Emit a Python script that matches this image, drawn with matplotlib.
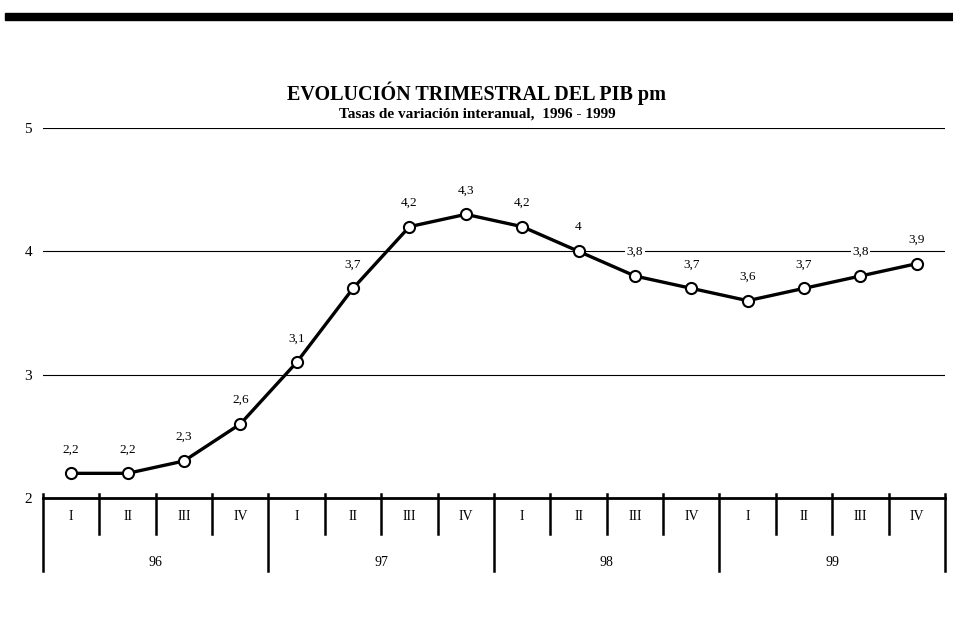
import matplotlib
matplotlib.use("Agg")
import matplotlib.pyplot as plt
from matplotlib.patches import Rectangle

plt.rcParams['font.family'] = ['Liberation Serif', 'DejaVu Serif']

quarters = ["I", "II", "III", "IV"] * 4
years = ["96", "97", "98", "99"]
values = [2.2, 2.2, 2.3, 2.6, 3.1, 3.7, 4.2, 4.3, 4.2, 4.0, 3.8, 3.7, 3.6, 3.7, 3.8, 3.9]
labels = ["2,2", "2,2", "2,3", "2,6", "3,1", "3,7", "4,2", "4,3", "4,2", "4", "3,8", "3,7", "3,6", "3,7", "3,8", "3,9"]
yticks = [2, 3, 4, 5]

W, H = 954, 628
fig = plt.figure(figsize=(W / 100, H / 100), dpi=100)
left, right, top, bottom = 43, 945, 128, 498
ax = fig.add_axes([left / W, 1 - bottom / H, (right - left) / W, (bottom - top) / H])

n = len(values)
xs = [i + 0.5 for i in range(n)]
ax.set_xlim(0, n)
ax.set_ylim(2, 5)

for y in yticks[1:]:
    ax.axhline(y, color="black", lw=0.8, zorder=1)

ax.plot(xs, values, color="black", lw=2.4, marker="o", markersize=8,
        markerfacecolor="white", markeredgecolor="black", markeredgewidth=1.5,
        zorder=3, clip_on=False)

for x, v, t in zip(xs, values, labels):
    ax.annotate(t, (x, v), xytext=(0, 13), textcoords="offset points",
                ha="center", va="bottom", fontsize=9.5,
                bbox=dict(boxstyle="square,pad=0.1", fc="white", ec="none"),
                zorder=2)

for s in ["left", "right", "top"]:
    ax.spines[s].set_visible(False)
ax.spines["bottom"].set_linewidth(2)
ax.set_xticks([])
ax.set_yticks(yticks)
ax.set_yticklabels([str(y) for y in yticks], fontsize=11)
ax.tick_params(axis="y", length=0, pad=8)

# category axis below
trans = ax.get_xaxis_transform()
qdepth = (534 - bottom) / (bottom - top)
ydepth = (571 - bottom) / (bottom - top)
up = 4 / (bottom - top)
for i in range(n + 1):
    d = ydepth if i % 4 == 0 else qdepth
    ax.plot([i, i], [up, -d], transform=trans, color="black", lw=1.8,
            clip_on=False, zorder=4)
for i, q in enumerate(quarters):
    ax.text(i + 0.5, -(517 - bottom) / (bottom - top), q, transform=trans,
            ha="center", va="center", fontsize=10)
for j, yr in enumerate(years):
    ax.text(j * 4 + 2, -(562 - bottom) / (bottom - top), yr, transform=trans,
            ha="center", va="center", fontsize=10)

# top bar
fig.patches.append(Rectangle((5 / W, 1 - 20 / H), (W - 5) / W, 7 / H,
                             transform=fig.transFigure, color="black"))

fig.text(477 / W, 1 - 93 / H, "EVOLUCIÓN TRIMESTRAL DEL PIB pm",
         ha="center", va="center", fontsize=14.5, fontweight="bold")
fig.text(477 / W, 1 - 114 / H, "Tasas de variación interanual,  1996 - 1999",
         ha="center", va="center", fontsize=11, fontweight="bold")

fig.savefig("out.png", dpi=100)
